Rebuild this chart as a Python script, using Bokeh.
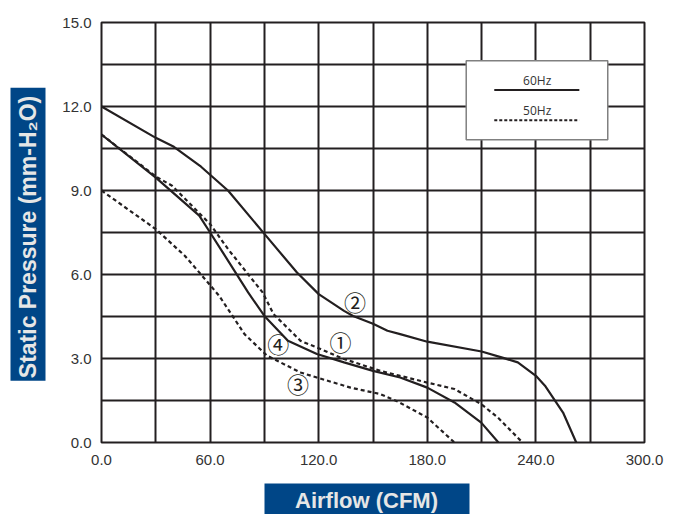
import numpy as np
from bokeh.plotting import figure
from bokeh.layouts import row, column
from bokeh.models import FixedTicker, BoxAnnotation, Label, Range1d
from bokeh.embed import file_html
from bokeh.resources import INLINE
from bokeh.core.properties import value

# ---------------- data ----------------
# 60Hz curve starting at 12.0 (label 2)
c2_cfm = [0, 30, 40, 55, 70, 90, 108, 120, 134, 139, 150, 158, 165, 180, 210, 221, 230, 240, 245, 255, 262.3]
c2_p = [12.0, 10.88, 10.56, 9.85, 8.99, 7.45, 6.07, 5.3, 4.7, 4.52, 4.24, 3.99, 3.87, 3.6, 3.25, 3.04, 2.86, 2.38, 2.03, 1.07, 0.0]

# 60Hz curve starting at 11.0
c1_cfm = [0, 30, 54, 60, 67, 81, 90, 103, 119, 134, 150, 165, 180, 195, 209.8, 219.3]
c1_p = [11.0, 9.46, 8.1, 7.5, 6.79, 5.36, 4.52, 3.63, 3.16, 2.86, 2.56, 2.32, 1.96, 1.43, 0.71, 0.0]

# 50Hz curve starting at 11.0
c4_cfm = [0, 30, 39, 60, 70, 89, 95, 110, 121, 134, 154, 165, 180, 195, 209.8, 219, 232.6]
c4_p = [11.0, 9.5, 9.17, 7.8, 6.9, 5.36, 4.59, 3.63, 3.34, 2.98, 2.56, 2.38, 2.14, 1.91, 1.37, 0.89, 0.0]

# 50Hz curve starting at 9.0
c3_cfm = [0, 30, 46, 55, 65, 73, 79, 91.5, 110, 119, 137.6, 154, 164, 180, 195]
c3_p = [9.0, 7.62, 6.67, 6.0, 5.24, 4.46, 3.87, 3.1, 2.5, 2.32, 1.96, 1.73, 1.45, 0.89, 0.0]

curve_marks = ["\u2460", "\u2461", "\u2462", "\u2463"]
mark_cfm = [132.0, 140.0, 108.5, 97.6]
mark_p = [3.61, 5.06, 2.11, 3.57]

x_ticks = [0, 60, 120, 180, 240, 300]
x_tick_labels = ["0.0", "60.0", "120.0", "180.0", "240.0", "300.0"]
y_ticks = [0, 3, 6, 9, 12, 15]
y_tick_labels = ["0.0", "3.0", "6.0", "9.0", "12.0", "15.0"]
x_grid = [0, 30, 60, 90, 120, 150, 180, 210, 240, 270, 300]
y_grid = [0, 1.5, 3, 4.5, 6, 7.5, 9, 10.5, 12, 13.5, 15]

legend_labels = ["60Hz", "50Hz"]
x_title = "Airflow (CFM)"
y_title = "Static Pressure (mm-H\u2082O)"

# ---------------- style / layout ----------------
INK = "#231f20"
BLUE = "#004687"
TITLE_TXT = "#e6e6e6"
# legend layout (data units)
LEG_BOX = dict(left=201.5, right=279.7, bottom=10.81, top=13.63)
LEG_LINE_X = [217, 264]
LEG_LINE_Y = [12.59, 11.51]
LEG_TEXT_X = 240.7
LEG_TEXT_Y = [12.93, 11.84]

TOTAL_W, TOTAL_H = 672, 514
SIDE_W = 50          # width of the strip holding the vertical title box
MAIN_H = 470         # height of the main figure
YBOX = dict(left=10, right=45, top=73, bottom=401)      # pixel layout in the side strip
YTXT = (27.5, 240)
XBOX = dict(left=264, right=469, top=13, bottom=44)      # pixel layout in the bottom strip
XTXT = (366, 30)


def blank(w, h):
    f = figure(width=w, height=h, x_range=Range1d(0, w), y_range=Range1d(h, 0),
               x_axis_type=None, y_axis_type=None, output_backend="svg", toolbar_location=None,
               min_border=0, min_border_left=0, min_border_right=0, min_border_top=0, min_border_bottom=0)
    f.outline_line_color = None
    f.background_fill_color = "white"
    f.border_fill_color = "white"
    return f


p = figure(width=TOTAL_W - SIDE_W, height=MAIN_H, x_range=Range1d(0, 300), y_range=Range1d(0, 15),
           output_backend="svg", toolbar_location=None,
           min_border_left=101 - SIDE_W, min_border_right=28, min_border_top=22, min_border_bottom=28)
p.background_fill_color = "white"
p.border_fill_color = "white"
p.outline_line_color = INK
p.outline_line_width = 2
p.outline_line_alpha = 1

p.xaxis.ticker = FixedTicker(ticks=x_ticks)
p.yaxis.ticker = FixedTicker(ticks=y_ticks)
p.xaxis.major_label_overrides = {t: s for t, s in zip(x_ticks, x_tick_labels)}
p.yaxis.major_label_overrides = {t: s for t, s in zip(y_ticks, y_tick_labels)}
p.xgrid.ticker = FixedTicker(ticks=x_grid)
p.ygrid.ticker = FixedTicker(ticks=y_grid)
for g in (p.xgrid, p.ygrid):
    g.grid_line_color = INK
    g.grid_line_width = 2
    g.grid_line_alpha = 1

for ax in (p.xaxis, p.yaxis):
    ax.axis_line_color = None
    ax.major_tick_line_color = None
    ax.minor_tick_line_color = None
    ax.major_tick_out = 0
    ax.major_tick_in = 0
    ax.major_label_text_font = "Liberation Sans"
    ax.major_label_text_font_size = "15px"
    ax.major_label_text_color = "#333333"
p.xaxis.major_label_standoff = 12
p.yaxis.major_label_standoff = 10

# curves
p.line(c2_cfm, c2_p, line_color=INK, line_width=2.2)
p.line(c1_cfm, c1_p, line_color=INK, line_width=2.2)
p.line(c4_cfm, c4_p, line_color=INK, line_width=2.2, line_dash="4 3")
p.line(c3_cfm, c3_p, line_color=INK, line_width=2.2, line_dash="4 3")

p.text(x=mark_cfm, y=mark_p, text=curve_marks, text_font=value("Noto Sans CJK JP"),
       text_font_size="22px", text_align="center", text_baseline="middle", text_color=INK)

# legend
p.add_layout(BoxAnnotation(fill_color="white", fill_alpha=1, line_color="#808080",
                           line_width=1.5, line_alpha=1, **LEG_BOX))
p.line(LEG_LINE_X, [LEG_LINE_Y[0]] * 2, line_color=INK, line_width=2, level="overlay")
p.line(LEG_LINE_X, [LEG_LINE_Y[1]] * 2, line_color=INK, line_width=2, line_dash="3 2", level="overlay")
for lbl, ly in zip(legend_labels, LEG_TEXT_Y):
    p.add_layout(Label(x=LEG_TEXT_X, y=ly, text=lbl, text_align="center", text_baseline="middle",
                       text_font="Open Sans", text_font_size="12px", text_color="#333333"))

# vertical axis title strip
side = blank(SIDE_W, MAIN_H)
side.quad(fill_color=BLUE, line_color=None, **YBOX)
side.add_layout(Label(x=YTXT[0], y=YTXT[1], text=y_title, angle=np.pi / 2,
                      text_align="center", text_baseline="middle", text_color=TITLE_TXT,
                      text_font="Liberation Sans", text_font_style="bold", text_font_size="23px"))

# horizontal axis title strip
bottom = blank(TOTAL_W, TOTAL_H - MAIN_H)
bottom.quad(fill_color=BLUE, line_color=None, **XBOX)
bottom.add_layout(Label(x=XTXT[0], y=XTXT[1], text=x_title,
                        text_align="center", text_baseline="middle", text_color=TITLE_TXT,
                        text_font="Liberation Sans", text_font_style="bold", text_font_size="22px"))

layout = column(row(side, p, spacing=0), bottom, spacing=0)
open("out.html", "w").write(file_html(layout, INLINE))
